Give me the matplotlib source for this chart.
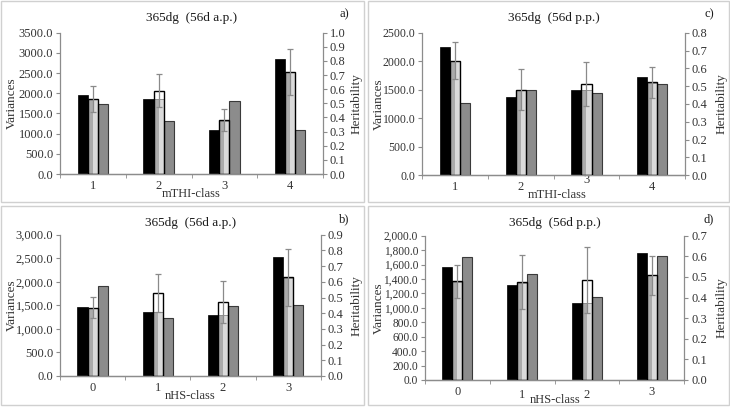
import numpy as np
import matplotlib.pyplot as plt
from matplotlib.patches import Rectangle
from matplotlib.ticker import FuncFormatter

plt.rcParams['font.family'] = ['Liberation Serif', 'DejaVu Serif']

# panel a) 365dg (56d a.p.) by mTHI-class
a_classes = ['1', '2', '3', '4']
a_var1 = [1958, 1855, 1088, 2858]
a_var2 = [1850, 1850, 1320, 2520]
a_var3 = [1744, 1302, 1808, 1100]
a_h2 = [0.53, 0.59, 0.38, 0.722]
a_h2_err = [0.092, 0.117, 0.077, 0.161]

# panel c) 365dg (56d p.p.) by mTHI-class
c_classes = ['1', '2', '3', '4']
c_var1 = [2255, 1373, 1494, 1720]
c_var2 = [2000, 1490, 1490, 1610]
c_var3 = [1266, 1498, 1443, 1600]
c_h2 = [0.642, 0.48, 0.51, 0.521]
c_h2_err = [0.104, 0.115, 0.124, 0.087]

# panel b) 365dg (56d a.p.) by nHS-class
b_classes = ['0', '1', '2', '3']
b_var1 = [1462, 1352, 1302, 2533]
b_var2 = [1450, 1350, 1300, 2090]
b_var3 = [1908, 1225, 1479, 1500]
b_h2 = [0.436, 0.529, 0.469, 0.629]
b_h2_err = [0.069, 0.121, 0.134, 0.182]

# panel d) 365dg (56d p.p.) by nHS-class
d_classes = ['0', '1', '2', '3']
d_var1 = [1562, 1317, 1063, 1764]
d_var2 = [1360, 1340, 1065, 1450]
d_var3 = [1706, 1476, 1146, 1716]
d_h2 = [0.48, 0.474, 0.484, 0.507]
d_h2_err = [0.08, 0.132, 0.16, 0.096]

W, H = 730, 408
fig = plt.figure(figsize=(W / 100, H / 100), dpi=100)

tick_col = '#333333'
axis_col = '#8c8c8c'


def px_rect(x0, y0, x1, y1):
    return [x0 / W, 1 - y1 / H, (x1 - x0) / W, (y1 - y0) / H]


def draw_panel(frame, rect, classes, var1, var2, var3, h2, h2_err,
               vmax, vstep, hmax, comma, title, letter, xlabel, xlab_x,
               ysize=9, label_shift=None):
    fx0, fy0, fx1, fy1 = frame
    fig.patches.append(Rectangle((fx0 / W, 1 - fy1 / H), (fx1 - fx0) / W, (fy1 - fy0) / H,
                                 transform=fig.transFigure, fill=False,
                                 edgecolor='#d0d0d0', linewidth=1.0))
    ax = fig.add_axes(px_rect(*rect))
    ax2 = ax.twinx()
    x = np.arange(len(classes))
    bw = 0.155

    ax.bar(x - bw, var1, bw, color='black', edgecolor='black', linewidth=0.5, zorder=2)
    ax.bar(x - bw / 4, var2, bw / 2, color='#ababab', linewidth=0, zorder=2)
    ax.bar(x + bw / 4, var2, bw / 2, color='#dadada', linewidth=0, zorder=2)
    ax.bar(x, var2, bw, fill=False, edgecolor='#8a8a8a', linewidth=0.6, zorder=2)
    ax.bar(x + bw, var3, bw, color='#8c8c8c', edgecolor='#3a3a3a', linewidth=0.8, zorder=2)

    ax2.bar(x, h2, bw, fill=False, edgecolor='black', linewidth=1.0, zorder=3)
    ax2.errorbar(x, h2, yerr=h2_err, fmt='none', ecolor='#8a8a8a', elinewidth=0.9,
                 capsize=2.5, capthick=0.9, zorder=4)

    ax.set_xlim(-0.5, len(classes) - 0.5)
    ax.set_ylim(0, vmax)
    ax.set_yticks(np.arange(0, vmax + 1, vstep))
    if comma:
        ax.yaxis.set_major_formatter(FuncFormatter(lambda v, p: f'{v:,.1f}'))
    else:
        ax.yaxis.set_major_formatter(FuncFormatter(lambda v, p: f'{v:.1f}'))
    ax2.set_ylim(0, hmax)
    ax2.set_yticks(np.arange(0, hmax + 0.001, 0.1))
    ax2.yaxis.set_major_formatter(FuncFormatter(lambda v, p: f'{v:.1f}'))

    ax.set_xticks(x)
    ax.set_xticklabels(classes)
    ax.set_xticks(np.arange(-0.5, len(classes)), minor=True)
    ax.tick_params(axis='x', which='major', length=0, pad=4, labelsize=9, labelcolor=tick_col)
    ax.tick_params(axis='x', which='minor', length=3, color=axis_col, direction='out')
    ax.tick_params(axis='y', length=3, color=axis_col, labelsize=ysize, labelcolor=tick_col, pad=2)
    ax2.tick_params(axis='y', length=3, color=axis_col, labelsize=9, labelcolor=tick_col, pad=2)
    if label_shift:
        labels = ax.get_xticklabels()
        for i, dy in label_shift.items():
            labels[i].set_y(dy)

    for a in (ax, ax2):
        a.set_facecolor('none')
        a.spines['top'].set_visible(False)
        for s in ('left', 'right', 'bottom'):
            a.spines[s].set_color(axis_col)
            a.spines[s].set_linewidth(0.9)
    ax.spines['right'].set_visible(False)
    ax2.spines['left'].set_visible(False)

    cx = (rect[0] + rect[2]) / 2
    fig.text(cx / W, 1 - (fy0 + 17) / H, title, ha='center', va='center',
             fontsize=9.5, color='#1a1a1a')
    fig.text((fx1 - 20) / W, 1 - (fy0 + 13) / H, letter, ha='center', va='center',
             fontsize=9, color='#1a1a1a')
    fig.text(xlab_x / W, 1 - (rect[3] + 20) / H, xlabel, ha='center', va='center',
             fontsize=9, color=tick_col)
    cy = (rect[1] + rect[3]) / 2
    fig.text((fx0 + 11) / W, 1 - cy / H, 'Variances', rotation=90, ha='center', va='center',
             fontsize=9.5, color=tick_col)
    fig.text((fx1 - 7) / W, 1 - cy / H, 'Heritability', rotation=90, ha='center', va='center',
             fontsize=9.5, color=tick_col)


draw_panel((1, 1, 364, 202), (60, 32.7, 323, 174), a_classes, a_var1, a_var2, a_var3,
           a_h2, a_h2_err, 3500, 500, 1.0, False, '365dg  (56d a.p.)', 'a)', 'mTHI-class', 191)
draw_panel((368, 1, 729, 202), (422.3, 32.7, 685, 175.3), c_classes, c_var1, c_var2, c_var3,
           c_h2, c_h2_err, 2500, 500, 0.8, False, '365dg  (56d p.p.)', 'c)', 'mTHI-class', 557,
           ysize=8.5, label_shift={2: 0.045})
draw_panel((1, 206, 364, 405), (60, 234.7, 320.7, 376), b_classes, b_var1, b_var2, b_var3,
           b_h2, b_h2_err, 3000, 500, 0.9, True, '365dg  (56d a.p.)', 'b)', 'nHS-class', 190)
draw_panel((368, 206, 729, 405), (425, 235.7, 684.3, 380), d_classes, d_var1, d_var2, d_var3,
           d_h2, d_h2_err, 2000, 200, 0.7, True, '365dg  (56d p.p.)', 'd)', 'nHS-class', 555,
           ysize=8.3, label_shift={1: -0.025, 2: -0.025})

fig.savefig('out.png', dpi=100)
